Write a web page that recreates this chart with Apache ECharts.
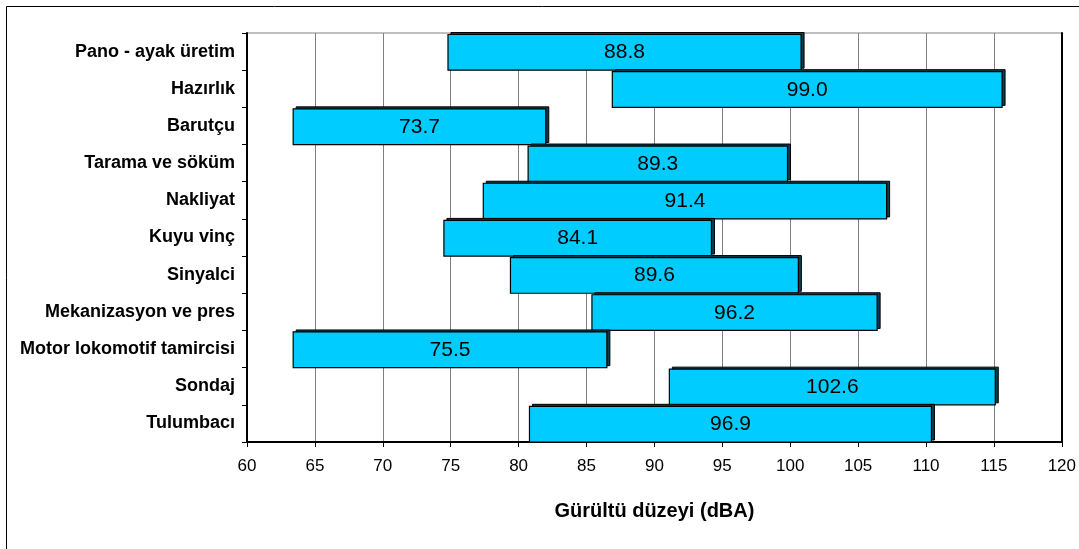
<!DOCTYPE html>
<html>
<head>
<meta charset="utf-8">
<script src="https://cdn.jsdelivr.net/npm/echarts@6/dist/echarts.min.js"></script>
<style>html,body{margin:0;padding:0;background:#fff;}#c{width:1079px;height:549px;}</style>
</head>
<body>
<div id="c"></div>
<script>
const categories = ["Pano - ayak üretim","Hazırlık","Barutçu","Tarama ve söküm","Nakliyat","Kuyu vinç","Sinyalci","Mekanizasyon ve pres","Motor lokomotif tamircisi","Sondaj","Tulumbacı"];
const minValues = [74.8, 86.9, 63.4, 80.7, 77.4, 74.5, 79.4, 85.4, 63.4, 91.1, 80.8];
const maxValues = [100.8, 115.6, 82.0, 99.8, 107.1, 94.2, 100.6, 106.4, 86.5, 115.1, 110.4];
const meanValues = ["88.8","99.0","73.7","89.3","91.4","84.1","89.6","96.2","75.5","102.6","96.9"];
const xTicks = [60,65,70,75,80,85,90,95,100,105,110,115,120];

const data = categories.map((c, i) => [i, minValues[i], maxValues[i], meanValues[i]]);

const chart = echarts.init(document.getElementById('c'), null, {renderer: 'canvas'});
chart.setOption({
  animation: false,
  backgroundColor: '#fff',
  grid: {left: 247, right: 17, top: 33, bottom: 107, show: true, borderColor: '#808080', borderWidth: 1},
  xAxis: {
    type: 'value', min: xTicks[0], max: xTicks[xTicks.length - 1], interval: 5,
    axisLine: {show: true, lineStyle: {color: '#000', width: 2}},
    axisTick: {show: true, length: 5, lineStyle: {color: '#000'}},
    axisLabel: {color: '#000', fontSize: 17, fontFamily: 'Liberation Sans, Arial', margin: 16},
    splitLine: {show: true, lineStyle: {color: '#808080', width: 1}},
    name: 'Gürültü düzeyi (dBA)', nameLocation: 'middle', nameGap: 59,
    nameTextStyle: {color: '#000', fontSize: 20, fontWeight: 'bold', fontFamily: 'Liberation Sans, Arial'}
  },
  yAxis: [{
    type: 'category', data: categories, inverse: true,
    axisLine: {show: true, lineStyle: {color: '#000', width: 2}},
    axisTick: {show: true, length: 5, lineStyle: {color: '#000'}},
    axisLabel: {color: '#000', fontSize: 18, fontWeight: 'bold', fontFamily: 'Liberation Sans, Arial', margin: 12},
    splitLine: {show: false}
  }, {
    type: 'category', data: categories, inverse: true, position: 'right',
    axisLine: {show: true, lineStyle: {color: '#000', width: 2}},
    axisTick: {show: false}, axisLabel: {show: false}, splitLine: {show: false}
  }],
  graphic: [
    {type: 'line', shape: {x1: 6.5, y1: 6.5, x2: 1079, y2: 6.5}, style: {stroke: '#000', lineWidth: 1}},
    {type: 'line', shape: {x1: 6.5, y1: 6.5, x2: 6.5, y2: 549}, style: {stroke: '#000', lineWidth: 1}}
  ],
  series: [{
    type: 'custom',
    encode: {x: [1, 2], y: 0},
    data: data,
    renderItem: function (params, api) {
      const idx = api.value(0);
      const s = api.coord([api.value(1), idx]);
      const e = api.coord([api.value(2), idx]);
      const band = api.size([0, 1])[1];
      const top = s[1] - band / 2 + 1.5;
      const h = band - 1.5;
      const w = e[0] - s[0];
      return {
        type: 'group',
        children: [
          {type: 'rect', shape: {x: s[0] + 3, y: top - 2, width: w, height: h},
           style: {fill: '#0b3d4d', stroke: '#000', lineWidth: 1}},
          {type: 'rect', shape: {x: s[0], y: top, width: w, height: h},
           style: {fill: '#00CCFF', stroke: '#000', lineWidth: 1.2}},
          {type: 'text', x: (s[0] + e[0]) / 2, y: s[1] + 1,
           style: {text: data[params.dataIndex][3], fill: '#000', fontSize: 21,
                   fontFamily: 'Liberation Sans, Arial', align: 'center', verticalAlign: 'middle'}}
        ]
      };
    }
  }]
});
</script>
</body>
</html>
